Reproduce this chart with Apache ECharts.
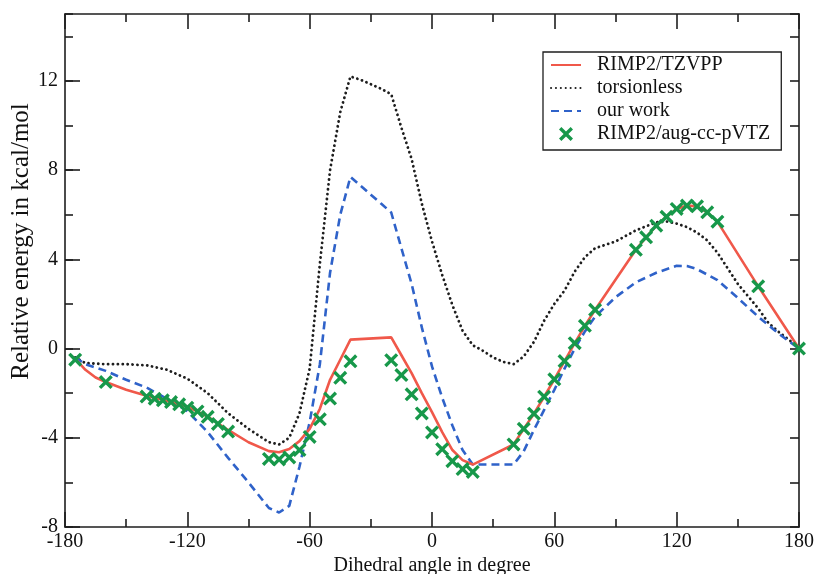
<!DOCTYPE html>
<html><head><meta charset="utf-8">
<script src="https://cdn.jsdelivr.net/npm/echarts@6/dist/echarts.min.js"></script>
<style>html,body{margin:0;padding:0;background:#fff}#c{width:814px;height:574px}</style>
</head><body><div id="c"></div>
<script>
// ---- data ----
const seriesNames = ['RIMP2/TZVPP', 'torsionless', 'our work', 'RIMP2/aug-cc-pVTZ'];

const tzvppX = [-175,-170,-165,-160,-150,-140,-130,-120,-110,-100,-90,-80,-75,-70,-65,-60,-55,-50,-45,-40,-20,-15,-10,-5,0,5,10,15,20,40,45,50,55,60,65,70,75,80,100,105,110,115,120,125,130,135,140,160,180];
const tzvppY = [-0.45,-0.95,-1.3,-1.5,-1.85,-2.12,-2.35,-2.6,-3.05,-3.65,-4.2,-4.6,-4.65,-4.5,-4.15,-3.6,-2.7,-1.4,-0.5,0.4,0.5,-0.3,-1.1,-2.0,-2.85,-3.75,-4.55,-5.0,-5.2,-4.3,-3.6,-2.92,-2.16,-1.38,-0.56,0.24,1.02,1.74,4.43,4.99,5.51,5.91,6.26,6.41,6.38,6.11,5.69,2.79,0];

const torsionX = [-175,-170,-160,-150,-140,-130,-120,-110,-100,-90,-80,-75,-70,-65,-60,-55,-50,-45,-40,-35,-30,-25,-20,-15,-10,-5,0,5,10,15,20,25,30,35,40,45,50,55,60,65,70,75,80,90,100,110,115,120,125,130,135,140,145,150,155,160,165,170,175,180];
const torsionY = [-0.4,-0.65,-0.7,-0.7,-0.75,-0.95,-1.35,-2.0,-2.9,-3.6,-4.2,-4.3,-4.0,-2.9,-0.9,3.8,8.0,10.6,12.2,12.05,11.85,11.65,11.4,9.9,8.5,6.5,4.8,3.3,1.95,0.8,0.15,-0.1,-0.4,-0.6,-0.7,-0.35,0.3,1.25,2.0,2.6,3.45,4.1,4.5,4.8,5.3,5.66,5.7,5.6,5.45,5.2,4.85,4.3,3.6,2.9,2.35,1.8,1.15,0.75,0.4,0];

const ourX = [-175,-170,-160,-150,-140,-130,-120,-110,-100,-90,-80,-75,-70,-65,-60,-55,-50,-45,-40,-35,-30,-25,-20,-15,-10,-5,0,5,10,15,20,30,40,45,50,55,60,65,70,75,80,90,100,110,120,125,130,140,150,160,170,180];
const ourY = [-0.4,-0.7,-1.0,-1.4,-1.75,-2.25,-2.8,-3.75,-4.9,-6.0,-7.15,-7.35,-7.05,-5.3,-3.3,-0.7,3.4,6.0,7.7,7.3,6.9,6.5,6.1,4.5,2.9,0.95,-0.8,-2.2,-3.45,-4.55,-5.2,-5.2,-5.2,-4.6,-3.65,-2.75,-1.85,-0.9,0.0,0.77,1.43,2.3,2.97,3.4,3.71,3.7,3.56,3.07,2.27,1.43,0.67,0];

const augX = [-175,-160,-140,-136,-132,-128,-124,-120,-115,-110,-105,-100,-80,-75,-70,-65,-60,-55,-50,-45,-40,-20,-15,-10,-5,0,5,10,15,20,40,45,50,55,60,65,70,75,80,100,105,110,115,120,125,130,135,140,160,180];
const augY = [-0.5,-1.5,-2.15,-2.25,-2.32,-2.4,-2.5,-2.65,-2.82,-3.06,-3.38,-3.72,-4.95,-4.97,-4.88,-4.55,-3.96,-3.17,-2.24,-1.31,-0.57,-0.52,-1.19,-2.05,-2.91,-3.76,-4.51,-5.05,-5.4,-5.53,-4.3,-3.6,-2.92,-2.16,-1.38,-0.56,0.24,1.02,1.74,4.43,4.99,5.51,5.91,6.26,6.41,6.38,6.11,5.69,2.79,0];

const xTickMin = -180, xTickMax = 180, xTickStep = 60;
const yTickMin = -8, yTickMax = 15, yTickStep = 4;

// ---- chart ----
const pairs = (xs, ys) => xs.map((x, i) => [x, ys[i]]);
const AX = '#1e1e1e';
const SERIF = 'Liberation Serif';
const lineSt = { color: AX, width: 1.6 };
const crossPath = 'path://M0,1.7L1.7,0L5,3.3L8.3,0L10,1.7L6.7,5L10,8.3L8.3,10L5,6.7L1.7,10L0,8.3L3.3,5Z';

const chart = echarts.init(document.getElementById('c'), null, { renderer: 'canvas' });
chart.setOption({
  animation: false,
  backgroundColor: '#fff',
  grid: { left: 65, right: 15, top: 14, bottom: 47, containLabel: false, outerBoundsMode: 'none' },
  legend: {
    orient: 'vertical', left: 543, top: 52,
    padding: [3, 11, 6, 7], itemGap: 3, itemWidth: 30, itemHeight: 14,
    borderColor: AX, borderWidth: 1.3, backgroundColor: '#fff',
    textStyle: { fontFamily: SERIF, fontSize: 20, color: '#111', padding: [0, 0, 0, 11], lineHeight: 20 },
    data: [
      { name: seriesNames[0], itemStyle: { opacity: 0 } },
      { name: seriesNames[1], itemStyle: { opacity: 0 } },
      { name: seriesNames[2], itemStyle: { opacity: 0 } },
      { name: seriesNames[3] }
    ]
  },
  xAxis: [
    {
      type: 'value', position: 'bottom', min: xTickMin, max: xTickMax, interval: xTickStep,
      name: 'Dihedral angle in degree', nameLocation: 'middle', nameGap: 29, nameMoveOverlap: false,
      nameTextStyle: { fontFamily: SERIF, fontSize: 20, color: '#111' },
      axisLine: { onZero: false, lineStyle: lineSt },
      axisTick: { inside: true, length: 15, lineStyle: lineSt },
      minorTick: { show: true, splitNumber: 2, length: 8, lineStyle: lineSt },
      splitLine: { show: false },
      axisLabel: { fontFamily: SERIF, fontSize: 20, color: '#111', margin: 5 }
    },
    {
      type: 'value', position: 'top', min: xTickMin, max: xTickMax, interval: xTickStep,
      axisLine: { onZero: false, lineStyle: lineSt },
      axisTick: { inside: true, length: 15, lineStyle: lineSt },
      minorTick: { show: true, splitNumber: 2, length: 8, lineStyle: lineSt },
      splitLine: { show: false },
      axisLabel: { show: false }
    }
  ],
  yAxis: [
    {
      type: 'value', position: 'left', min: yTickMin, max: yTickMax, interval: yTickStep,
      name: 'Relative energy in kcal/mol', nameLocation: 'middle', nameGap: 31, nameMoveOverlap: false,
      nameTextStyle: { fontFamily: SERIF, fontSize: 25, color: '#111', padding: [0, 0, 0, 58] },
      axisLine: { onZero: false, lineStyle: lineSt },
      axisTick: { inside: true, length: 15, lineStyle: lineSt },
      splitLine: { show: false },
      axisLabel: { fontFamily: SERIF, fontSize: 20, color: '#111', margin: 7, showMaxLabel: false }
    },
    {
      type: 'value', position: 'left', min: yTickMin, max: yTickMax, interval: yTickStep / 2,
      axisLine: { show: false, onZero: false },
      axisTick: { inside: true, length: 8, lineStyle: lineSt },
      splitLine: { show: false },
      axisLabel: { show: false }
    },
    {
      type: 'value', position: 'right', min: yTickMin, max: yTickMax, interval: yTickStep / 2,
      axisLine: { onZero: false, lineStyle: lineSt },
      axisTick: { inside: true, length: 9, lineStyle: lineSt },
      splitLine: { show: false },
      axisLabel: { show: false }
    }
  ],
  series: [
    {
      name: seriesNames[0], type: 'line', data: pairs(tzvppX, tzvppY), symbol: 'none', z: 4,
      itemStyle: { color: '#f0584a' },
      lineStyle: { color: '#f0584a', width: 2.6 }
    },
    {
      name: seriesNames[1], type: 'line', data: pairs(torsionX, torsionY), symbol: 'none', z: 3,
      itemStyle: { color: '#1e1e1e' },
      lineStyle: { color: '#1e1e1e', width: 2.8, type: [0.1, 4.8], cap: 'round' }
    },
    {
      name: seriesNames[2], type: 'line', data: pairs(ourX, ourY), symbol: 'none', z: 3,
      itemStyle: { color: '#2f62c9' },
      lineStyle: { color: '#2f62c9', width: 2.6, type: [8, 5] }
    },
    {
      name: seriesNames[3], type: 'scatter', data: pairs(augX, augY), z: 6,
      symbol: crossPath, symbolSize: 14,
      itemStyle: { color: '#17984a', opacity: 1 }
    }
  ]
});
</script></body></html>
